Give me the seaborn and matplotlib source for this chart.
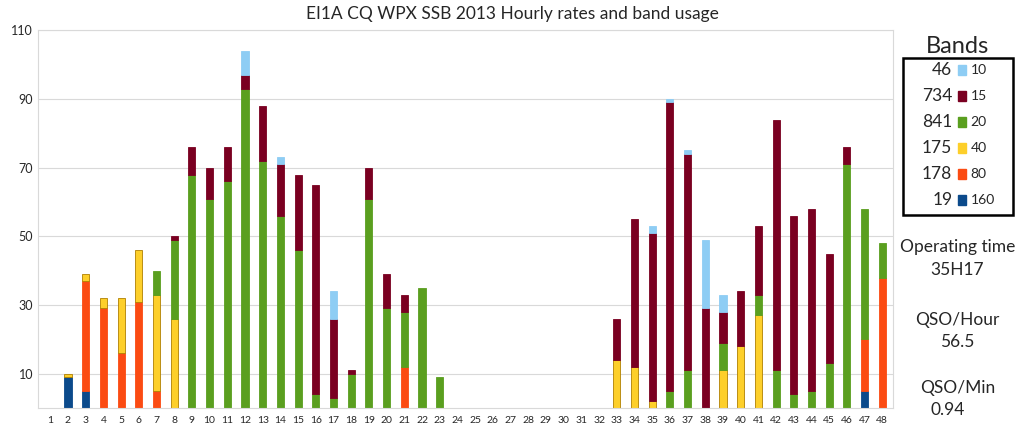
import numpy as np
import pandas as pd
import matplotlib.pyplot as plt
import matplotlib as mpl
import seaborn as sns

sns.set_style("white")
mpl.rcParams["font.family"] = "Lato"

hours = list(range(1, 49))
bands = ["160", "80", "40", "20", "15", "10"]
band_totals = [19, 178, 175, 841, 734, 46]
colors = {"160": "#0b4a8b", "80": "#fb4b12", "40": "#fdcf2a",
          "20": "#5a9f1f", "15": "#7a0021", "10": "#8ecdf4"}

q160 = {2: 9, 3: 5, 47: 5}
q80 = {3: 32, 4: 29, 5: 16, 6: 31, 7: 5, 21: 12, 47: 15, 48: 38}
q40 = {2: 1, 3: 2, 4: 3, 5: 16, 6: 15, 7: 28, 8: 26, 33: 14, 34: 12,
       35: 2, 39: 11, 40: 18, 41: 27}
q20 = {7: 7, 8: 23, 9: 68, 10: 61, 11: 66, 12: 93, 13: 72, 14: 56, 15: 46,
       16: 4, 17: 3, 18: 10, 19: 61, 20: 29, 21: 16, 22: 35, 23: 9,
       36: 5, 37: 11, 39: 8, 41: 6, 42: 11, 43: 4, 44: 5, 45: 13, 46: 71,
       47: 38, 48: 10}
q15 = {8: 1, 9: 8, 10: 9, 11: 10, 12: 4, 13: 16, 14: 15, 15: 22, 16: 61,
       17: 23, 18: 1, 19: 9, 20: 10, 21: 5, 33: 12, 34: 43, 35: 49, 36: 84,
       37: 63, 38: 29, 39: 9, 40: 16, 41: 20, 42: 73, 43: 52, 44: 53,
       45: 32, 46: 5}
q10 = {12: 7, 14: 2, 17: 8, 35: 2, 36: 1, 37: 1, 38: 20, 39: 5}
series = {"160": q160, "80": q80, "40": q40, "20": q20, "15": q15, "10": q10}

fig = plt.figure(figsize=(10.24, 4.26), dpi=100)
ax = fig.add_axes([0.037, 0.042, 0.835, 0.887])

order = [str(h) for h in hours]
bottom = np.zeros(len(hours))
for b in bands:
    vals = np.array([series[b].get(h, 0) for h in hours], dtype=float)
    df = pd.DataFrame({"hour": order, "qso": vals})
    sns.barplot(data=df, x="hour", y="qso", order=order, ax=ax,
                color=colors[b], bottom=bottom, width=0.4, saturation=1,
                edgecolor="#b08000" if b == "40" else colors[b], linewidth=0.6)
    # hide empty segments so they leave no sliver
    for p in ax.patches[-len(hours):]:
        if p.get_height() == 0:
            p.set_visible(False)
    bottom += vals

ax.set_ylim(0, 110)
ax.set_xlim(-0.7, 47.6)
ax.set_yticks(range(10, 111, 20))
ax.yaxis.grid(True, color="#d9d9d9", linewidth=0.8)
ax.set_axisbelow(True)
ax.tick_params(axis="x", labelsize=7.5, length=0, pad=6)
ax.tick_params(axis="y", labelsize=9, length=0)
ax.set_xlabel("")
ax.set_ylabel("")
for s in ["top", "right", "left", "bottom"]:
    ax.spines[s].set_color("#d9d9d9")
fig.suptitle("EI1A CQ WPX SSB 2013 Hourly rates and band usage",
             y=0.985, fontsize=12.5)

# right side panel
fig.text(0.935, 0.875, "Bands", ha="center", fontsize=17)
box = mpl.patches.Rectangle((0.882, 0.495), 0.107, 0.37, transform=fig.transFigure,
                            fill=False, edgecolor="black", linewidth=1.8)
fig.patches.append(box)
for i, b in enumerate(reversed(bands)):
    y = 0.835 - i * 0.061
    fig.text(0.930, y, str(band_totals[bands.index(b)]), ha="right",
             va="center", fontsize=12.5)
    fig.patches.append(mpl.patches.Rectangle((0.936, y - 0.012), 0.007, 0.024,
                       transform=fig.transFigure, color=colors[b]))
    fig.text(0.948, y, b, ha="left", va="center", fontsize=10)
fig.text(0.935, 0.42, "Operating time", ha="center", va="center", fontsize=12.5)
fig.text(0.935, 0.366, "35H17", ha="center", va="center", fontsize=12.5)
fig.text(0.935, 0.249, "QSO/Hour", ha="center", va="center", fontsize=12.5)
fig.text(0.935, 0.197, "56.5", ha="center", va="center", fontsize=12.5)
fig.text(0.935, 0.089, "QSO/Min", ha="center", va="center", fontsize=12.5)
fig.text(0.925, 0.037, "0.94", ha="center", va="center", fontsize=12.5)

fig.savefig("out.png", dpi=100)
